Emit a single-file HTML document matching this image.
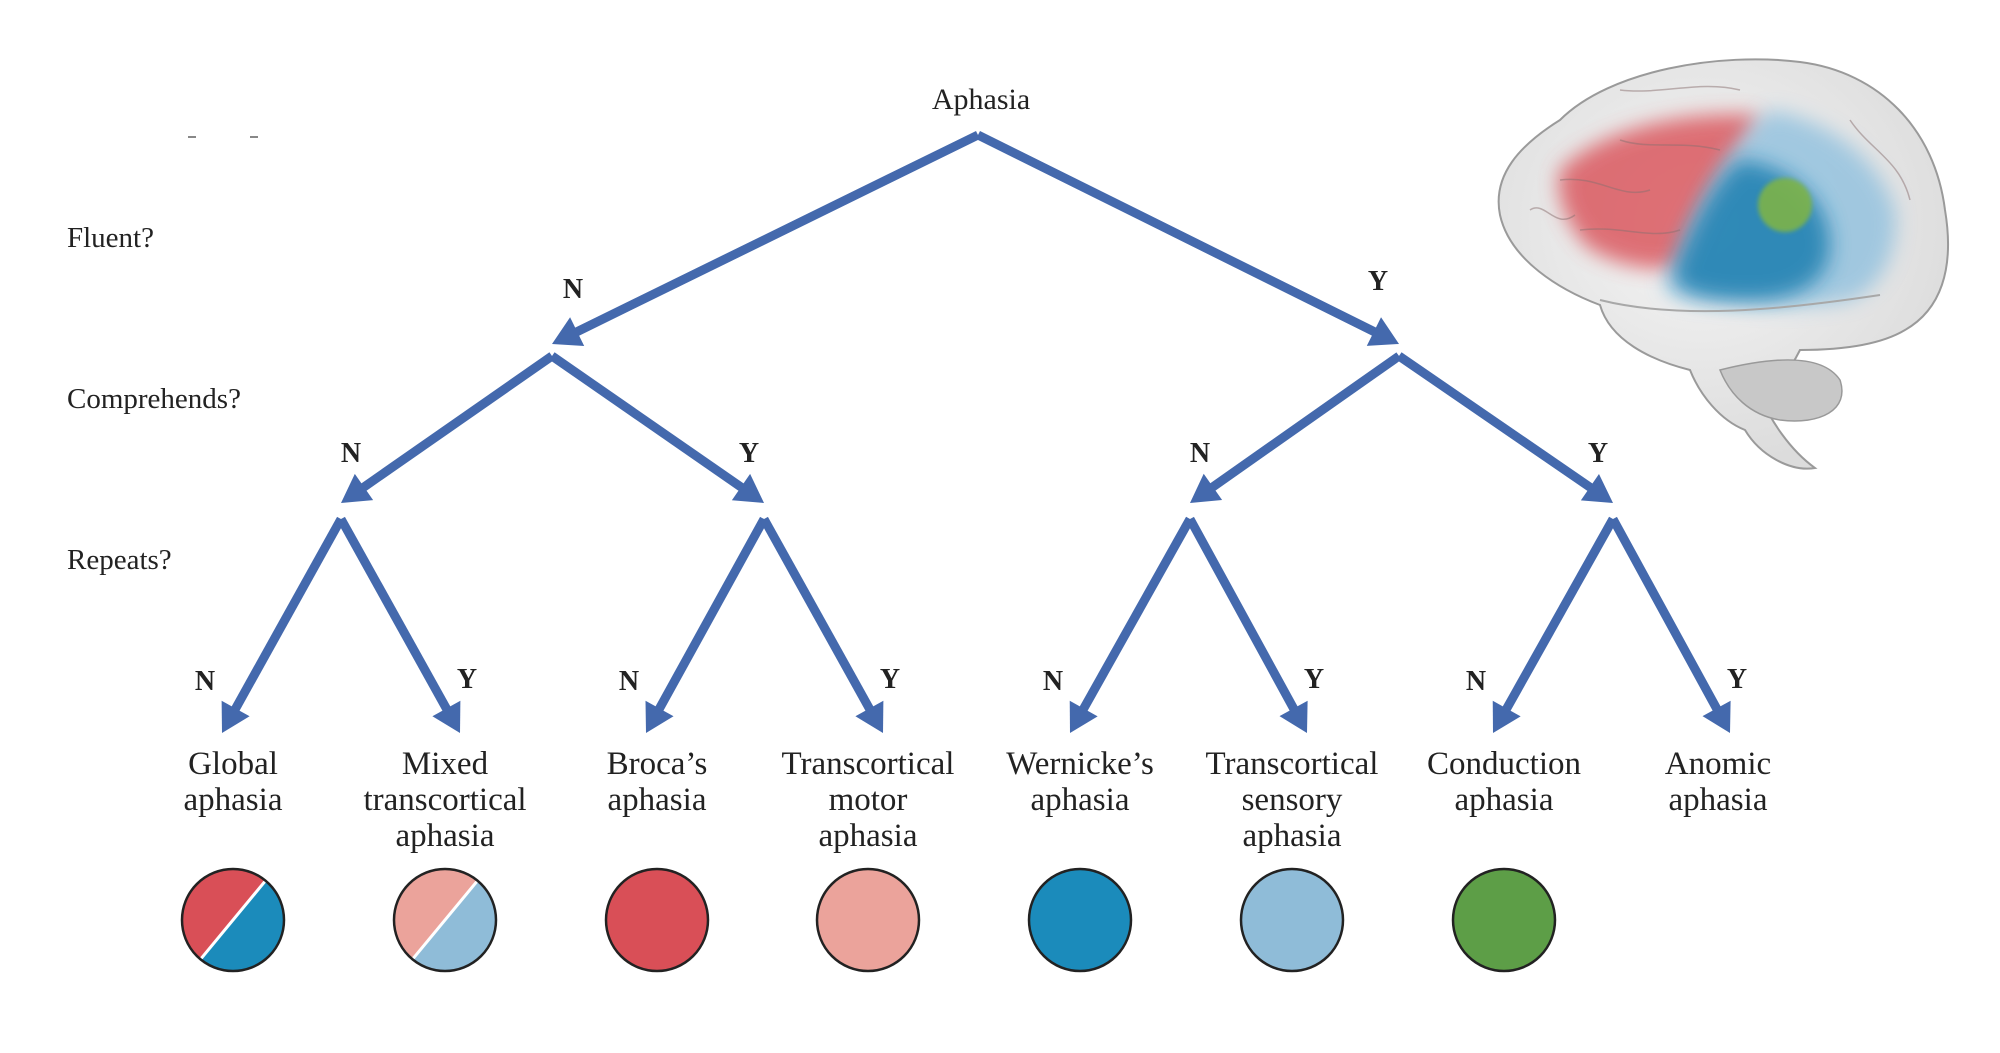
<!DOCTYPE html>
<html><head><meta charset="utf-8"><style>
html,body{margin:0;padding:0;background:#fff;}
svg{display:block;}
text{font-family:"Liberation Serif",serif;fill:#222;}
</style></head><body>
<svg id="chart" width="2000" height="1053" viewBox="0 0 2000 1053">
<defs>
<filter id="blur8" x="-30%" y="-30%" width="160%" height="160%"><feGaussianBlur stdDeviation="10"/></filter>
<filter id="blur3"><feGaussianBlur stdDeviation="2"/></filter>
<radialGradient id="brainGrad" cx="45%" cy="40%" r="60%"><stop offset="0" stop-color="#f6f6f6"/><stop offset="1" stop-color="#dcdcdc"/></radialGradient>
</defs>
<g id="brain">
  <path d="M1560,120 C1610,70 1720,52 1800,62 C1880,72 1935,130 1945,210 C1955,270 1940,310 1905,330 C1880,345 1840,350 1800,350 C1790,370 1775,390 1760,395 C1770,420 1790,450 1815,468 C1790,472 1760,455 1745,430 C1720,420 1700,395 1690,370 C1650,360 1610,340 1600,305 C1560,290 1510,260 1500,215 C1492,175 1520,145 1560,120 Z" fill="url(#brainGrad)" stroke="#9a9a9a" stroke-width="2"/>
  <path d="M1720,370 C1760,360 1820,350 1840,380 C1850,410 1820,425 1780,420 C1750,415 1730,395 1720,370 Z" fill="#c8c8c8" stroke="#999" stroke-width="1.5"/>
  <path d="M1560,170 C1600,130 1680,110 1760,115 C1740,160 1700,210 1690,265 C1660,275 1610,265 1585,245 C1565,220 1555,195 1560,170 Z" fill="#d94f57" opacity="0.8" filter="url(#blur8)"/>
  <path d="M1770,110 C1830,120 1880,160 1895,210 C1900,250 1880,290 1850,300 C1800,312 1740,305 1690,300 C1670,295 1660,290 1665,280 C1690,220 1720,150 1770,110 Z" fill="#8fc0de" opacity="0.8" filter="url(#blur8)"/>
  <path d="M1740,160 C1790,165 1830,200 1830,245 C1830,280 1800,300 1750,300 C1700,300 1670,290 1675,270 C1690,230 1710,185 1740,160 Z" fill="#1a7fb0" opacity="0.85" filter="url(#blur8)"/>
  <circle cx="1785" cy="205" r="27" fill="#7db34a" opacity="0.9" filter="url(#blur3)"/>
  <path d="M1600,300 C1680,320 1780,310 1880,295" fill="none" stroke="#a8a8a8" stroke-width="2"/>
  <path d="M1560,180 C1600,175 1620,200 1650,190 M1580,230 C1620,225 1650,240 1680,230 M1620,140 C1650,150 1680,140 1720,150 M1530,210 C1545,200 1555,230 1575,215 M1620,90 C1660,95 1700,80 1740,90 M1850,120 C1870,150 1900,160 1910,200" fill="none" stroke="#8a7070" stroke-width="1.5" opacity="0.5"/>
</g>
<line x1="188" y1="137" x2="196" y2="137" stroke="#888" stroke-width="2"/>
<line x1="250" y1="137" x2="258" y2="137" stroke="#888" stroke-width="2"/>
<g id="arrows"></g>
<g id="labels"></g>
<g id="circles"></g>
</svg>
<script>
// Tree structure data
const rootLabel = "Aphasia";
const questions = ["Fluent?", "Comprehends?", "Repeats?"];
const branchLabels = ["N", "Y"];
const leafNames = [["Global","aphasia"],["Mixed","transcortical","aphasia"],["Broca\u2019s","aphasia"],["Transcortical","motor","aphasia"],["Wernicke\u2019s","aphasia"],["Transcortical","sensory","aphasia"],["Conduction","aphasia"],["Anomic","aphasia"]];
const leafColorsTop = ["#d94f57","#eba39b","#d94f57","#eba39b","#1b8bbb","#8fbcd8","#5d9e47",null];
const leafColorsBottom = ["#1b8bbb","#8fbcd8","#d94f57","#eba39b","#1b8bbb","#8fbcd8","#5d9e47",null];

const NS = "http://www.w3.org/2000/svg";
const blue = "#4469ad";
const lvlStartY = [135, 356, 519];
const lvlTipY = [344, 503, 733];
const lvlX = [[978],[552,1399],[341,764,1190,1613],[222,460,646,883,1070,1307,1493,1730]];
const arrowsG = document.getElementById('arrows');
const labelsG = document.getElementById('labels');
const circlesG = document.getElementById('circles');

function mk(tag, attrs, parent){const e=document.createElementNS(NS,tag);for(const k in attrs)e.setAttribute(k,attrs[k]);parent.appendChild(e);return e;}

function arrow(x1,y1,x2,y2,name){
  const g=mk('g',{},arrowsG);
  
  
  const dx=x2-x1, dy=y2-y1, L=Math.hypot(dx,dy), ux=dx/L, uy=dy/L;
  const hl=28, hw=16;
  const bx=x2-ux*hl, by=y2-uy*hl;
  mk('line',{x1:x1,y1:y1,x2:bx+ux*2,y2:by+uy*2,stroke:blue,'stroke-width':9},g);
  mk('polygon',{points:`${x2},${y2} ${bx-uy*hw},${by+ux*hw} ${bx+uy*hw},${by-ux*hw}`,fill:blue},g);
}
function txt(x,y,s,size,anchor,weight,name){
  const t=mk('text',{x:x,y:y,'font-size':size,'text-anchor':anchor,'font-weight':weight||'normal'},labelsG);
  t.textContent=s;
  
  
  return t;
}

txt(981,109,rootLabel,30,'middle','normal','root-label');
const qY=[247,408,569];
questions.forEach((q,i)=>txt(67,qY[i],q,29,'start','normal','question-'+(i+1)));

for(let lv=0;lv<3;lv++){
  const from=lvlX[lv], to=lvlX[lv+1];
  from.forEach((fx,i)=>{
    for(let b=0;b<2;b++){
      const tx=to[i*2+b];
      arrow(fx,lvlStartY[lv],tx,lvlTipY[lv],'arrow-l'+(lv+1)+'-'+(i*2+b));
      let lx, ly;
      if(lv===0){lx = b===0? tx+21 : tx-21; ly = b===0?298:290;}
      else if(lv===1){lx = b===0? tx+10 : tx-15; ly=462;}
      else {lx = b===0? tx-17 : tx+7; ly=b===0?690:688;}
      txt(lx,ly,branchLabels[b],28,'middle','bold','branch-'+branchLabels[b]+'-l'+(lv+1)+'-'+(i*2+b));
    }
  });
}
const leafCx=[233,445,657,868,1080,1292,1504,1718];
leafNames.forEach((lines,i)=>{
  lines.forEach((ln,j)=>txt(leafCx[i],774+j*36,ln,33,'middle','normal','leaf-label-'+i+'-'+j));
});
leafColorsTop.forEach((c,i)=>{
  if(!c) return;
  const cx=leafCx[i], cy=920, r=51;
  const g=mk('g',{},circlesG);
  
  
  const c2=leafColorsBottom[i];
  if(c===c2){
    mk('circle',{cx:cx,cy:cy,r:r,fill:c,stroke:'#222','stroke-width':2.5},g);
  } else {
    const a=Math.PI*0.28;
    const ax=cx+r*Math.cos(-a), ay=cy+r*Math.sin(-a), bx=cx-r*Math.cos(-a), by=cy-r*Math.sin(-a);
    mk('path',{d:`M${ax},${ay} A${r},${r} 0 0 0 ${bx},${by} Z`,fill:c},g);
    mk('path',{d:`M${ax},${ay} A${r},${r} 0 0 1 ${bx},${by} Z`,fill:c2},g);
    mk('line',{x1:ax,y1:ay,x2:bx,y2:by,stroke:'#fff','stroke-width':3},g);
    mk('circle',{cx:cx,cy:cy,r:r,fill:'none',stroke:'#222','stroke-width':2.5},g);
  }
});
</script>
</body></html>
